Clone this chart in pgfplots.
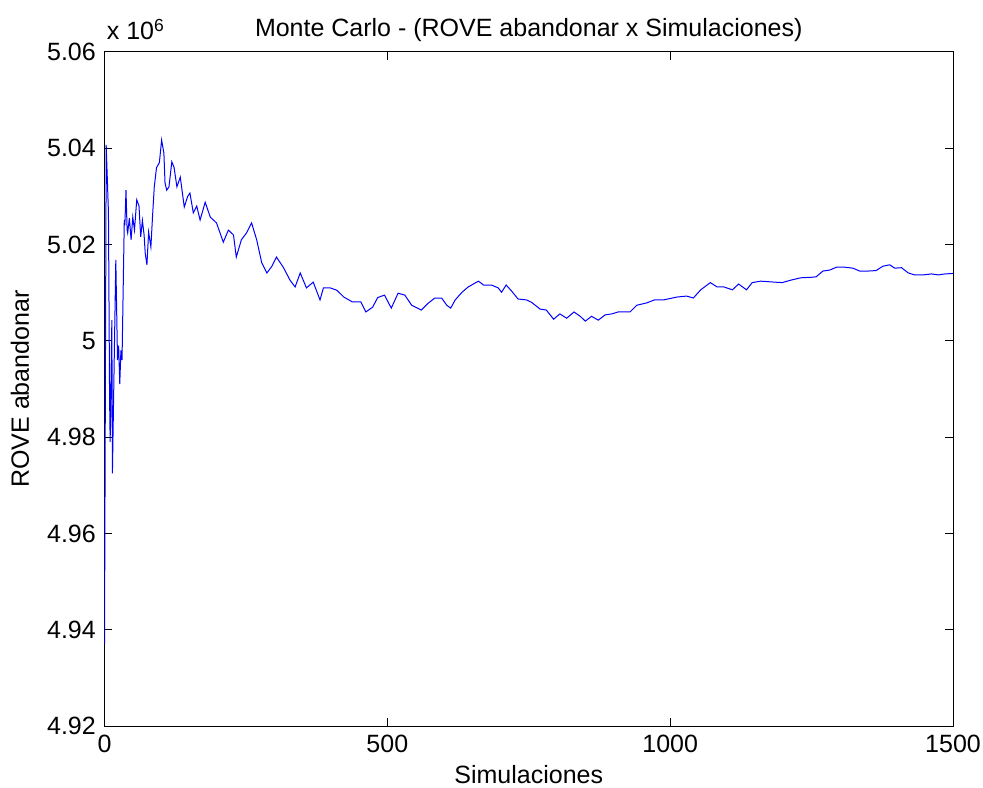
\documentclass[border=0pt]{standalone}
\usepackage{pgfplots}
\pgfplotsset{compat=1.18}
\usepackage{fontspec}
\setmainfont{Liberation Sans}
\begin{document}
\fontsize{12.5}{15}\selectfont
\begin{tikzpicture}
\begin{axis}[
  name=ax,
  scale only axis,
  width=424.25pt, height=337pt,
  xmin=0, xmax=1500, ymin=4.92, ymax=5.06,
  xtick={0,500,1000,1500},
  ytick={4.92,4.94,4.96,4.98,5.00,5.02,5.04,5.06},
  yticklabel style={/pgf/number format/fixed,/pgf/number format/precision=2},
  xticklabel style={/pgf/number format/set thousands separator={}},
  scaled y ticks=false,
  /pgf/number format/assume math mode=true,
  tick align=inside,
  major tick length=4pt,
  tick style={black, line width=0.5pt},
  axis line style={line width=0.5pt},
  xlabel={Simulaciones},
  ylabel={ROVE abandonar},
  title={Monte Carlo - (ROVE abandonar x Simulaciones)},
  every axis title shift=0pt,
  xlabel style={at={([yshift=-24.5pt]axis description cs:0.5,0)}, anchor=center},
  ylabel style={at={([xshift=-42.25pt]axis description cs:0,0.5)}, anchor=center},
  title style={at={([yshift=11pt]axis description cs:0.5,1)}, anchor=center},
]
\addplot[color={rgb,255:red,0;green,0;blue,255}, line width=0.5pt] coordinates {
(0,4.937) (3,5.0407) (7,5.0266) (9,4.988) (10,4.979) (13,5.0043) (14,4.9725)
(20,5.0168) (23,4.996) (25,4.999) (27,4.991) (29,4.998) (31,4.996) (35,5.0251)
(36,5.0240) (38,5.0313) (40,5.0230) (41,5.0224) (44,5.0255) (47,5.021) (50,5.0257)
(53,5.023) (57,5.0293) (61,5.028) (64,5.0216) (67,5.025) (70,5.022) (72,5.0182)
(75,5.0158) (78,5.0226) (82,5.0195) (85,5.026) (88,5.032) (92,5.036) (97,5.037)
(101,5.0417) (105,5.039) (107,5.0328) (110,5.0313) (114,5.032) (119,5.0372)
(123,5.036) (128,5.032) (134,5.034) (141,5.0278) (147,5.030) (151,5.0307)
(157,5.0266) (163,5.028) (169,5.0251) (178,5.0288) (187,5.0257) (198,5.0245)
(210,5.0205) (219,5.023) (228,5.022) (233,5.0174) (242,5.021) (251,5.0224)
(260,5.0245) (269,5.021) (278,5.0162) (287,5.0141) (296,5.0155) (304,5.0174)
(316,5.0153) (328,5.0126) (337,5.0112) (346,5.0141) (357,5.011) (369,5.0122)
(381,5.0085) (387,5.011) (399,5.011) (411,5.0105) (423,5.0091) (438,5.0081)
(453,5.0081) (462,5.006) (474,5.007) (483,5.009) (495,5.0095) (507,5.0068)
(519,5.0099) (531,5.0095) (543,5.0074) (560,5.0064) (572,5.0078) (584,5.0089)
(596,5.0089) (605,5.0074) (612,5.0068) (620,5.0085) (632,5.0101) (643,5.0112)
(652,5.0118) (661,5.0124) (670,5.0116) (684,5.0116) (696,5.0110) (702,5.0101)
(710,5.0116) (720,5.0103) (731,5.0087) (746,5.0085) (755,5.008) (770,5.0066)
(781,5.0064) (794,5.0045) (805,5.0056) (817,5.0047) (830,5.0060) (841,5.0051)
(850,5.0041) (861,5.0051) (873,5.0043) (885,5.0054) (897,5.0056) (908,5.0060)
(929,5.0060) (941,5.0074) (959,5.0079) (972,5.0085) (988,5.0085) (1012,5.0091)
(1029,5.0093) (1041,5.0089) (1054,5.0106) (1071,5.0121) (1083,5.0112)
(1095,5.0112) (1110,5.0106) (1121,5.0118) (1135,5.0106) (1145,5.0121)
(1160,5.0124) (1172,5.0123) (1184,5.0122) (1198,5.0121) (1213,5.0126)
(1231,5.0131) (1249,5.0132) (1258,5.0133) (1270,5.0145) (1282,5.0147)
(1294,5.0153) (1308,5.0153) (1323,5.0151) (1335,5.0145) (1350,5.0145)
(1364,5.0146) (1376,5.0155) (1388,5.0158) (1397,5.0151) (1409,5.0152)
(1421,5.0141) (1432,5.0137) (1447,5.0137) (1462,5.0139) (1474,5.0137)
(1486,5.0139) (1500,5.014)
};
\end{axis}
\node[anchor=base west, inner sep=0pt] at ([xshift=1pt,yshift=6pt]ax.north west) {x 10\textsuperscript{6}};
\pgfresetboundingbox
\path (-52.25pt,-30.5pt) rectangle (439.25pt,363pt);
\end{tikzpicture}
\end{document}
